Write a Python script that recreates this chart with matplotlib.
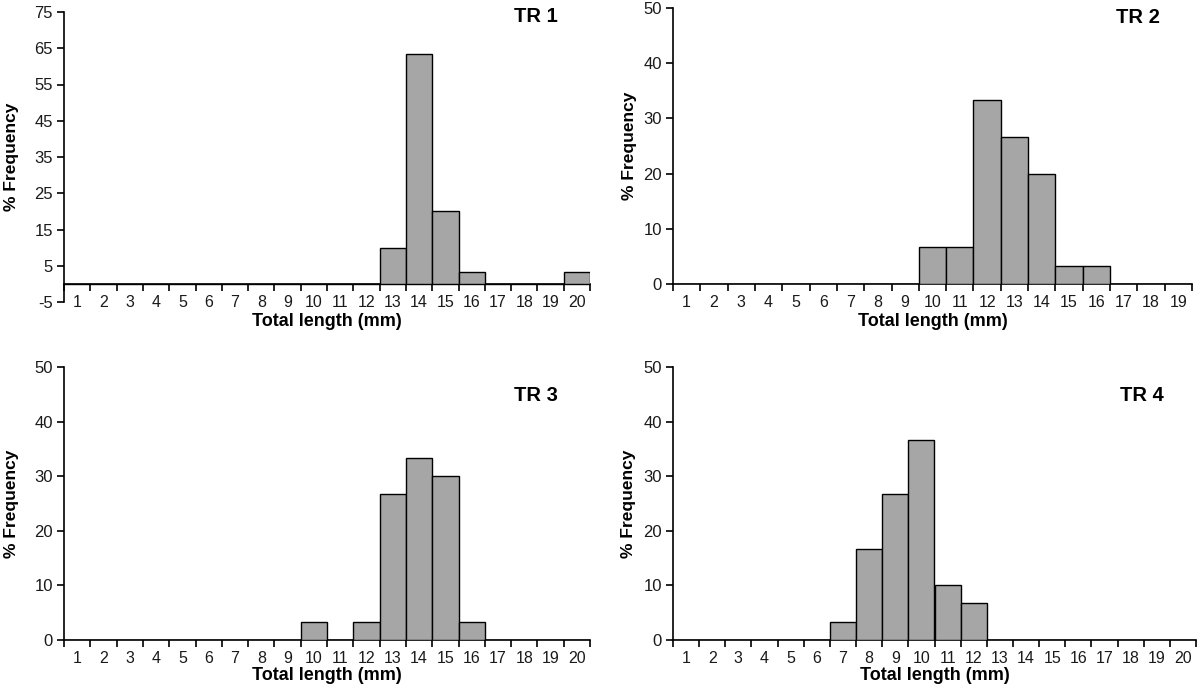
import matplotlib
matplotlib.use("Agg")
import matplotlib.pyplot as plt
from matplotlib.ticker import FixedLocator, NullFormatter

plt.rcParams['font.family'] = ['Liberation Sans', 'DejaVu Sans']
plt.rcParams['axes.unicode_minus'] = False

# % frequency per 1 mm length class
tr1_lengths = list(range(1, 21))
tr1_freq = [0, 0, 0, 0, 0, 0, 0, 0, 0, 0, 0, 0, 10.0, 63.3, 20.0, 3.3, 0, 0, 0, 3.3]

tr2_lengths = list(range(1, 20))
tr2_freq = [0, 0, 0, 0, 0, 0, 0, 0, 0, 6.7, 6.7, 33.3, 26.7, 20.0, 3.3, 3.3, 0, 0, 0]

tr3_lengths = list(range(1, 21))
tr3_freq = [0, 0, 0, 0, 0, 0, 0, 0, 0, 3.3, 0, 3.3, 26.7, 33.3, 30.0, 3.3, 0, 0, 0, 0]

tr4_lengths = list(range(1, 21))
tr4_freq = [0, 0, 0, 0, 0, 0, 3.3, 16.7, 26.7, 36.7, 10.0, 6.7, 0, 0, 0, 0, 0, 0, 0, 0]

tr1_yticks = [-5, 5, 15, 25, 35, 45, 55, 65, 75]
other_yticks = [0, 10, 20, 30, 40, 50]

W, H = 1200, 687
fig = plt.figure(figsize=(12, 6.87), dpi=100)


def px_axes(left, top, right, bottom):
    return fig.add_axes([left / W, 1 - bottom / H, (right - left) / W, (bottom - top) / H])


panels = [
    # name, lengths, freq, yticks, ylim, pixel box, title pos, xlabel y, ylabel x
    ("TR 1", tr1_lengths, tr1_freq, tr1_yticks, (-5, 75), (64, 12, 590, 302), (0.897, 0.983), -0.038, -0.086),
    ("TR 2", tr2_lengths, tr2_freq, other_yticks, (0, 50), (673, 8, 1192, 284), (0.896, 0.967), -0.105, -0.070),
    ("TR 3", tr3_lengths, tr3_freq, other_yticks, (0, 50), (64, 367, 590, 640), (0.897, 0.897), -0.100, -0.086),
    ("TR 4", tr4_lengths, tr4_freq, other_yticks, (0, 50), (673, 367, 1196, 640), (0.897, 0.897), -0.100, -0.070),
]

for name, lengths, freq, yticks, ylim, box, tpos, xl_y, yl_x in panels:
    ax = px_axes(*box)
    ax.bar(lengths, freq, width=1.0, color="#a6a6a6", edgecolor="black", linewidth=1.0, zorder=3)
    n = len(lengths)
    ax.set_xlim(0.5, n + 0.5)
    ax.set_ylim(*ylim)

    for s in ("top", "right"):
        ax.spines[s].set_visible(False)
    ax.spines["bottom"].set_position(("data", 0))
    ax.spines["bottom"].set_linewidth(1.2)
    ax.spines["left"].set_linewidth(1.2)

    # boundary ticks without labels, category labels centred between them
    ax.xaxis.set_major_locator(FixedLocator([i + 0.5 for i in range(0, n + 1)]))
    ax.xaxis.set_major_formatter(NullFormatter())
    ax.xaxis.set_minor_locator(FixedLocator(lengths))
    ax.set_xticklabels([str(v) for v in lengths], minor=True)
    ax.tick_params(axis="x", which="major", direction="out", length=5, width=1.2)
    ax.tick_params(axis="x", which="minor", length=0, pad=8, labelsize=11.5, labelcolor="#1a1a1a")

    ax.set_yticks(yticks)
    ax.tick_params(axis="y", direction="out", length=5, width=1.2, labelsize=12,
                   labelcolor="#1a1a1a", pad=3)

    ax.set_xlabel("Total length (mm)", fontsize=13, fontweight="bold")
    ax.xaxis.set_label_coords(0.5, xl_y)
    ax.set_ylabel("% Frequency", fontsize=12.5, fontweight="bold")
    ax.yaxis.set_label_coords(yl_x, 0.5)

    ax.text(tpos[0], tpos[1], name, transform=ax.transAxes, ha="center", va="center",
            fontsize=14.5, fontweight="bold")

fig.savefig("out.png", dpi=100)
plt.close(fig)
